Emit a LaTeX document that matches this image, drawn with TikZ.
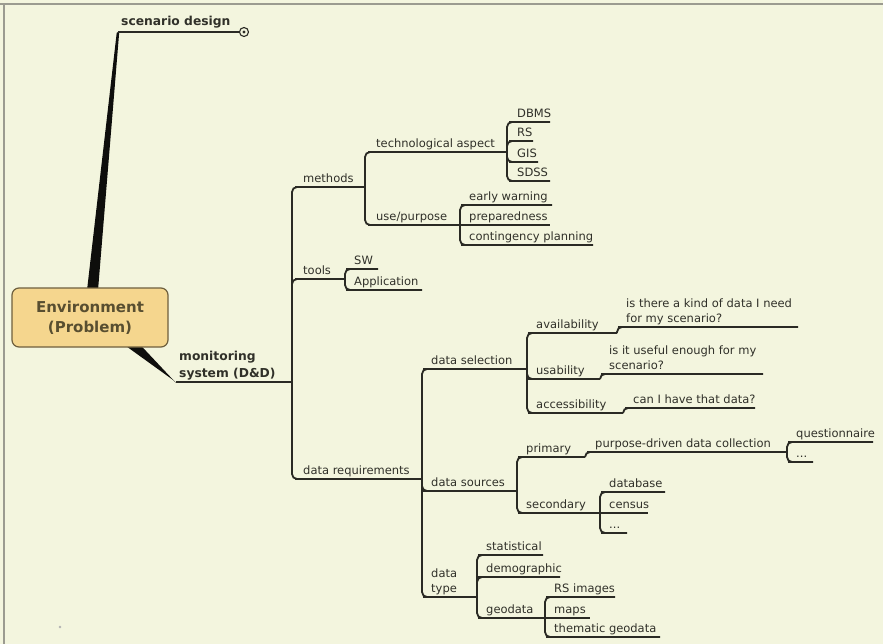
\documentclass[tikz,border=0pt]{standalone}
\usepackage{fontspec}
\setmainfont{DejaVu Sans}
\usetikzlibrary{backgrounds}
\definecolor{paper}{HTML}{F3F5DE}
\definecolor{frameline}{HTML}{9B9B90}
\definecolor{ink}{HTML}{2A2A24}
\definecolor{branch}{HTML}{0E0E0C}
\definecolor{txt}{HTML}{303029}
\definecolor{rootfill}{HTML}{F5D68E}
\definecolor{rootedge}{HTML}{6E5F3E}
\definecolor{roottxt}{HTML}{584E30}
\newcommand\topicfont{\fontsize{11.5}{15}\selectfont}
\newcommand\mainfont{\bfseries\fontsize{12.3}{17.5}\selectfont}
\tikzset{
  bar/.style={rectangle, inner sep=0pt, outer sep=0pt, minimum height=0pt, minimum width=#1, anchor=west},
  lbl/.style={inner sep=0pt, anchor=south west, text depth=2.8pt, align=left, text=txt, font=\topicfont},
  mainlbl/.style={lbl, font=\mainfont},
  scenlbl/.style={mainlbl, yshift=2pt},
  conn/.style={draw=ink, line width=1.8pt, rounded corners=5pt},
  rootbox/.style={rectangle, rounded corners=7pt, fill=rootfill, draw=rootedge, line width=1.2pt,
    minimum width=156pt, minimum height=59pt, align=center, text=roottxt,
    font=\bfseries\fontsize{15}{20}\selectfont},
  collapse/.style={circle, draw=ink, line width=1.1pt, fill=paper, minimum size=9pt, inner sep=0pt},
}
% \topic[label style]{name}{x}{y of underline}{underline length}{text}
\newcommand\topic[6][lbl]{%
  \node[bar=#5] (#2) at (#3,#4) {};
  \node[#1] (#2-t) at ([shift={(3pt,1.2pt)}]#2.west) {#6};
}
\begin{document}
\begin{tikzpicture}[x=1pt, y=-1pt]
\useasboundingbox (0,0) rectangle (883,644);

% central topic
\node[rootbox] (root) at (90,317.5) {Environment\\(Problem)};

% main topics
\topic[scenlbl]{scen}{118}{32}{121}{scenario design}
\topic[mainlbl]{mon}{176}{382}{116}{monitoring\\system (D\&D)}
\node[collapse] (scen-c) at ([xshift=5pt]scen.east) {};
\fill[ink] (scen-c) circle (1.6pt);

% monitoring system
\topic{methods}{300}{187}{65}{methods}
\topic{tools}{300}{279}{45}{tools}
\topic{dreq}{300}{479}{122}{data requirements}

% methods
\topic{tech}{373}{152}{134}{technological aspect}
\topic{use}{373}{225}{87}{use/purpose}
\topic{dbms}{514}{122}{36}{DBMS}
\topic{rs}{514}{141}{19}{RS}
\topic{gis}{514}{162}{24}{GIS}
\topic{sdss}{514}{181}{36}{SDSS}
\topic{early}{466}{205}{86}{early warning}
\topic{prep}{466}{225}{84}{preparedness}
\topic{cont}{466}{245}{127}{contingency planning}

% tools
\topic{sw}{351}{269}{27}{SW}
\topic{app}{351}{290}{71}{Application}

% data requirements
\topic{dsel}{428}{369}{99}{data selection}
\topic{dsrc}{428}{491}{89}{data sources}
\topic{dtype}{428}{597}{49}{data\\type}

\topic{avail}{533}{333}{84}{availability}
\topic{usab}{533}{379}{67}{usability}
\topic{access}{533}{413}{90}{accessibility}
\topic{q1}{623}{327}{175}{is there a kind of data I need\\for my scenario?}
\topic{q2}{606}{374}{157}{is it useful enough for my\\scenario?}
\topic{q3}{630}{408}{125}{can I have that data?}

\topic{prim}{523}{457}{62}{primary}
\topic{sec}{523}{513}{77}{secondary}
\topic{pdc}{592}{452}{195}{purpose-driven data collection}
\topic{quest}{793}{442}{80}{questionnaire}
\topic{dotsa}{793}{462}{20}{...}
\topic{db}{606}{492}{59}{database}
\topic{census}{606}{513}{42}{census}
\topic{dotsb}{606}{533}{21}{...}

\topic{stat}{483}{555}{60}{statistical}
\topic{demo}{483}{577}{77}{demographic}
\topic{geo}{483}{618}{62}{geodata}
\topic{rsimg}{551}{597}{64}{RS images}
\topic{maps}{551}{618}{39}{maps}
\topic{them}{551}{637}{109}{thematic geodata}

% paper, frame and the two thick main branches
\begin{scope}[on background layer]
  \fill[paper] (0,0) rectangle (883,644);
  \draw[frameline, line width=1.5pt] (0,4) -- (883,4);
  \draw[frameline, line width=1.5pt] (4,4) -- (4,644);
  \fill[gray!60] (60,627) circle (1.3pt);
  \fill[branch] ([shift={(-3pt,-3pt)}]root.north) -- ([shift={(8pt,-3pt)}]root.north)
    -- ([shift={(1.3pt,0.9pt)}]scen.west) -- ([shift={(-1.3pt,-0.9pt)}]scen.west) -- cycle;
  \fill[branch] ([shift={(34pt,3pt)}]root.south) -- ([shift={(50pt,3pt)}]root.south)
    -- ([yshift=-0.9pt]mon.west) -- ([shift={(-1.4pt,0.9pt)}]mon.west) -- cycle;
\end{scope}

% underlines of the main topics
\draw[conn] (scen.west) -- (scen.east);
\draw[conn] (mon.west) -- (mon.east);

% connectors: parent underline end -> child underline
\foreach \p/\c in {mon/methods, mon/tools, mon/dreq,
                   methods/tech, methods/use,
                   tech/dbms, tech/rs, tech/gis, tech/sdss,
                   use/early, use/cont,
                   tools/sw, tools/app,
                   dreq/dsel, dreq/dsrc, dreq/dtype,
                   dsel/avail, dsel/usab, dsel/access,
                   avail/q1, usab/q2, access/q3,
                   dsrc/prim, dsrc/sec, prim/pdc,
                   pdc/quest, pdc/dotsa,
                   sec/db, sec/dotsb,
                   dtype/stat, dtype/demo, dtype/geo,
                   geo/rsimg, geo/them}
  \draw[conn] (\p.east) |- (\c.west) -- (\c.east);
% children that sit level with their parent
\foreach \p/\c in {use/prep, sec/census, geo/maps}
  \draw[conn] (\p.east) -- (\c.west) -- (\c.east);
\end{tikzpicture}
\end{document}
